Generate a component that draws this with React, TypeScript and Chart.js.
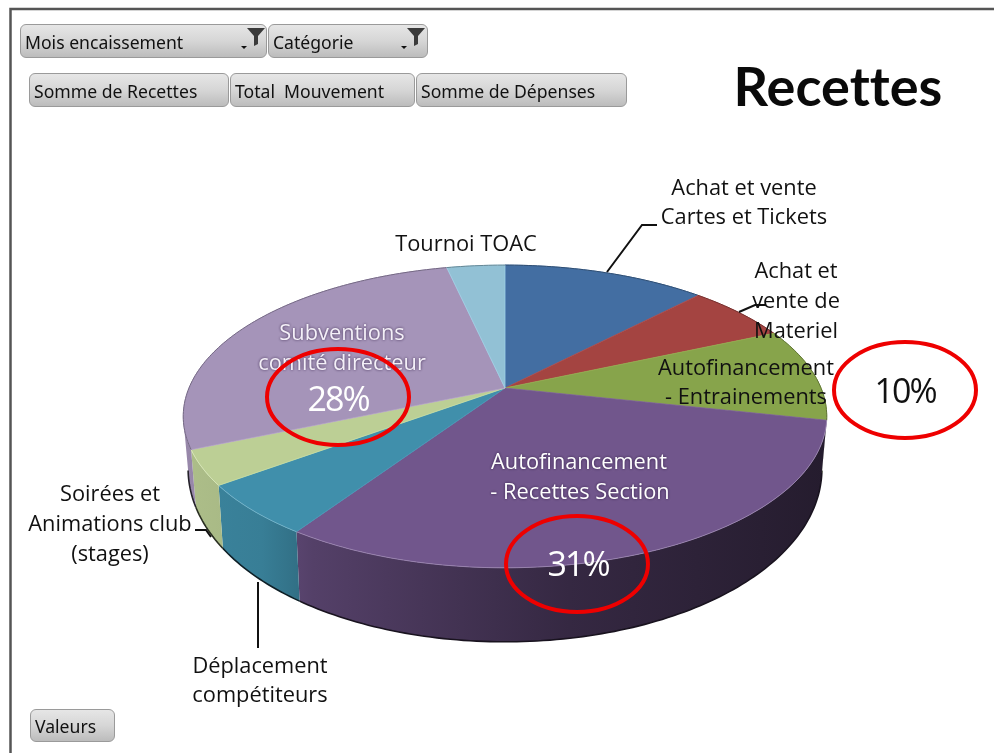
import React, { useEffect, useRef } from "react";
import { Chart, registerables } from "chart.js";

Chart.register(...registerables);

const categories = [
  "Achat et vente Cartes et Tickets",
  "Achat et vente de Materiel",
  "Autofinancement - Entrainements",
  "Autofinancement - Recettes Section",
  "Déplacement compétiteurs",
  "Soirées et Animations club (stages)",
  "Subventions comité directeur",
  "Tournoi TOAC",
];
const recettes = [12.2, 6.2, 10, 31, 5.5, 3.7, 27.9, 3.5];
const sliceColors = ["#436ea2", "#a44441", "#87a44b", "#71568c", "#408fab", "#bccf95", "#a594b9", "#92c1d5"];

const topFilters = ["Mois encaissement", "Catégorie"];
const valueButtons = ["Somme de Recettes", "Total  Mouvement", "Somme de Dépenses"];
const axisButton = "Valeurs";
const chartTitle = "Recettes";

const LABEL_FONT = '"Open Sans", sans-serif';
const BTN_FONT = '"Noto Sans", sans-serif';

// perspective projection of the pie disc
const APEX = { x: 505, y: 388 };
const A = 316, B = 146, K = -0.188;
function project(theta: number) {
  const u = Math.cos(theta), v = Math.sin(theta);
  const w = 1 + K * v;
  return { x: APEX.x + (A * u) / w, y: APEX.y + (B * v) / w, v };
}
function lower(theta: number) {
  const p = project(theta);
  const d = 47 + 27 * Math.max(0, p.v);
  return { x: APEX.x + (p.x - APEX.x) * 0.985, y: p.y + d };
}
function rgb(hex: string) {
  return [1, 3, 5].map((i) => parseInt(hex.slice(i, i + 2), 16));
}
function shade(hex: string, f: number) {
  const [r, g, b] = rgb(hex);
  return `rgb(${Math.min(255, Math.round(r * f))},${Math.min(255, Math.round(g * f))},${Math.min(255, Math.round(b * f))})`;
}

const perspectivePie = {
  id: "perspectivePie",
  beforeDatasetsDraw(chart: any) {
    const ctx: CanvasRenderingContext2D = chart.ctx;
    const arcs = chart.getDatasetMeta(0).data;
    const STEP = Math.PI / 180;
    const WALL_FROM = 0.2, WALL_TO = Math.PI - 0.2;
    // walls
    arcs.forEach((arc: any, i: number) => {
      const norm = (a: number) => {
        let n = a % (2 * Math.PI);
        if (n < -Math.PI / 2) n += 2 * Math.PI;
        return n;
      };
      const s0 = norm(arc.startAngle);
      const e0 = s0 + (arc.endAngle - arc.startAngle);
      const s = Math.max(s0, WALL_FROM), e = Math.min(e0, WALL_TO);
      if (e <= s) return;
      const g = ctx.createLinearGradient(185, 0, 825, 0);
      g.addColorStop(0, shade(sliceColors[i], 0.92));
      g.addColorStop(0.12, shade(sliceColors[i], 0.88));
      g.addColorStop(0.2, shade(sliceColors[i], 0.74));
      g.addColorStop(0.6, shade(sliceColors[i], 0.47));
      g.addColorStop(1, shade(sliceColors[i], 0.33));
      ctx.beginPath();
      for (let t = s; t < e; t += STEP) {
        const p = project(t);
        t === s ? ctx.moveTo(p.x, p.y) : ctx.lineTo(p.x, p.y);
      }
      const pe = project(e);
      ctx.lineTo(pe.x, pe.y);
      for (let t = e; t > s; t -= STEP) {
        const p = lower(t);
        ctx.lineTo(p.x, p.y);
      }
      const ps = lower(s);
      ctx.lineTo(ps.x, ps.y);
      ctx.closePath();
      ctx.fillStyle = g;
      ctx.fill();
      // dark lower rim
      ctx.beginPath();
      for (let t = s; t < e; t += STEP) {
        const p = lower(t);
        t === s ? ctx.moveTo(p.x, p.y) : ctx.lineTo(p.x, p.y);
      }
      ctx.lineTo(lower(e).x, lower(e).y);
      ctx.strokeStyle = shade(sliceColors[i], 0.22);
      ctx.lineWidth = 1.6;
      ctx.stroke();
    });
    // top face
    arcs.forEach((arc: any, i: number) => {
      const s = arc.startAngle, e = arc.endAngle;
      ctx.beginPath();
      ctx.moveTo(APEX.x, APEX.y);
      for (let t = s; t < e; t += STEP) {
        const p = project(t);
        ctx.lineTo(p.x, p.y);
      }
      const pe = project(e);
      ctx.lineTo(pe.x, pe.y);
      ctx.closePath();
      ctx.fillStyle = sliceColors[i];
      ctx.fill();
      ctx.strokeStyle = shade(sliceColors[i], 1.08);
      ctx.lineWidth = 0.8;
      ctx.stroke();
      // rim
      ctx.beginPath();
      for (let t = s; t < e; t += STEP) {
        const p = project(t);
        t === s ? ctx.moveTo(p.x, p.y) : ctx.lineTo(p.x, p.y);
      }
      ctx.lineTo(pe.x, pe.y);
      const fb = project((s + e) / 2).v > 0;
      ctx.strokeStyle = fb ? "rgba(255,255,255,0.2)" : shade(sliceColors[i], 0.7);
      ctx.lineWidth = 1;
      ctx.stroke();
    });
    return false;
  },
  afterDraw(chart: any) {
    const ctx: any = chart.ctx;
    ctx.save();
    // leader lines
    const leaders = [
      [[607, 272], [642, 225], [657, 225]],
      [[739, 312], [755, 305], [766, 305]],
      [[195, 530], [206, 530], [211, 537]],
      [[258, 582], [258, 648]],
    ];
    ctx.strokeStyle = "#111";
    ctx.lineWidth = 2;
    leaders.forEach((l) => {
      ctx.beginPath();
      l.forEach(([x, y], i) => (i ? ctx.lineTo(x, y) : ctx.moveTo(x, y)));
      ctx.stroke();
    });
    ctx.textAlign = "center";
    ctx.textBaseline = "middle";
    const put = (t: string, x: number, y: number, size: number, color: string, glow = false, weight = "400", fam = LABEL_FONT, spacing = "0px") => {
      ctx.font = `${weight} ${size}px ${fam}`;
      ctx.letterSpacing = spacing;
      ctx.fillStyle = color;
      ctx.shadowColor = glow ? "rgba(40,20,60,0.85)" : "transparent";
      ctx.shadowBlur = glow ? 3 : 0;
      ctx.fillText(t, x, y);
      ctx.shadowBlur = 0;
      ctx.shadowColor = "transparent";
    };
    const BLACK = "#111";
    const S = 21.8;
    put("Achat et vente", 744, 189, S, BLACK);
    put("Cartes et Tickets", 744, 218, S, BLACK);
    put("Achat et", 796, 272, S, BLACK);
    put("vente de", 796, 302, S, BLACK);
    put("Materiel", 796, 332, S, BLACK);
    put("Autofinancement", 746, 369, S, BLACK);
    put("- Entrainements", 746, 398, S, BLACK);
    put("Tournoi TOAC", 466, 245, S, BLACK);
    put("Subventions", 342, 334, S, "#f4f0f8", true);
    put("comité directeur", 342, 364, S, "#f4f0f8", true);
    put("Autofinancement", 579, 463, S, "#fff", true);
    put("- Recettes Section", 580, 493, S, "#fff", true);
    put("Soirées et", 110, 495, S, BLACK);
    put("Animations club", 110, 525, S, BLACK);
    put("(stages)", 110, 555, S, BLACK);
    put("Déplacement", 260, 667, S, BLACK);
    put("compétiteurs", 260, 696, S, BLACK);
    put("28%", 338, 401, 34, "#fff", false, "400", LABEL_FONT, "-2px");
    put("31%", 578, 566, 34, "#fff", false, "400", LABEL_FONT, "-2px");
    put("10%", 905, 393, 34, BLACK, false, "400", LABEL_FONT, "-2px");
    put(chartTitle, 838, 89, 54, "#0a0a0a", false, "700", "Lato, sans-serif", "0.05px");
    ctx.letterSpacing = "0px";
    // red circles
    ctx.strokeStyle = "#ee0000";
    ctx.lineWidth = 4;
    [[338, 397], [905, 390], [577, 564]].forEach(([x, y]) => {
      ctx.beginPath();
      ctx.ellipse(x, y, 71, 48, 0, 0, Math.PI * 2);
      ctx.stroke();
    });
    // frame
    ctx.strokeStyle = "#555";
    ctx.lineWidth = 2.5;
    ctx.beginPath();
    ctx.moveTo(10.5, 753);
    ctx.lineTo(10.5, 9);
    ctx.lineTo(994, 9);
    ctx.stroke();
    ctx.restore();
  },
};

function Funnel({ x, y }: { x: number; y: number }) {
  return (
    <svg width={26} height={24} style={{ position: "absolute", left: x, top: y }}>
      <path d="M6 1 H24 L17 9 V17 L13 19 V9 Z" fill="#3a3a3a" />
      <path d="M0 19 H6 L3 22 Z" fill="#111" />
    </svg>
  );
}

function Btn({ label, l, r, t, b }: { label: string; l: number; r: number; t: number; b: number }) {
  return (
    <div
      style={{
        position: "absolute",
        left: l,
        top: t,
        width: r - l,
        height: b - t,
        boxSizing: "border-box",
        border: "1px solid #9a9a9a",
        borderRadius: 6,
        background: "linear-gradient(#e6e6e6, #d6d6d6 50%, #bcbcbc)",
        font: `17.6px ${BTN_FONT}`,
        color: "#111",
        lineHeight: `${b - t}px`,
        paddingLeft: 4,
        whiteSpace: "pre",
        overflow: "hidden",
      }}
    >
      {label}
    </div>
  );
}

export default function App() {
  const ref = useRef<HTMLCanvasElement>(null);
  useEffect(() => {
    const chart = new Chart(ref.current!, {
      type: "pie",
      data: { labels: categories, datasets: [{ data: recettes, backgroundColor: sliceColors }] },
      options: {
        animation: false,
        responsive: false,
        events: [],
        plugins: { legend: { display: false }, tooltip: { enabled: false } },
      },
      plugins: [perspectivePie],
    } as any);
    return () => chart.destroy();
  }, []);
  return (
    <div style={{ position: "fixed", left: 0, top: 0, width: 994, height: 753, background: "#fff", overflow: "hidden" }}>
      <canvas ref={ref} width={994} height={753} style={{ position: "absolute", left: 0, top: 0, display: "block" }} />
      <Btn label={topFilters[0]} l={20} r={267} t={24} b={58} />
      <Btn label={topFilters[1]} l={268} r={428} t={24} b={58} />
      <Funnel x={241} y={27} />
      <Funnel x={401} y={27} />
      <Btn label={valueButtons[0]} l={29} r={229} t={73} b={107} />
      <Btn label={valueButtons[1]} l={230} r={415} t={73} b={107} />
      <Btn label={valueButtons[2]} l={416} r={627} t={73} b={107} />
      <Btn label={axisButton} l={30} r={115} t={709} b={742} />
    </div>
  );
}
